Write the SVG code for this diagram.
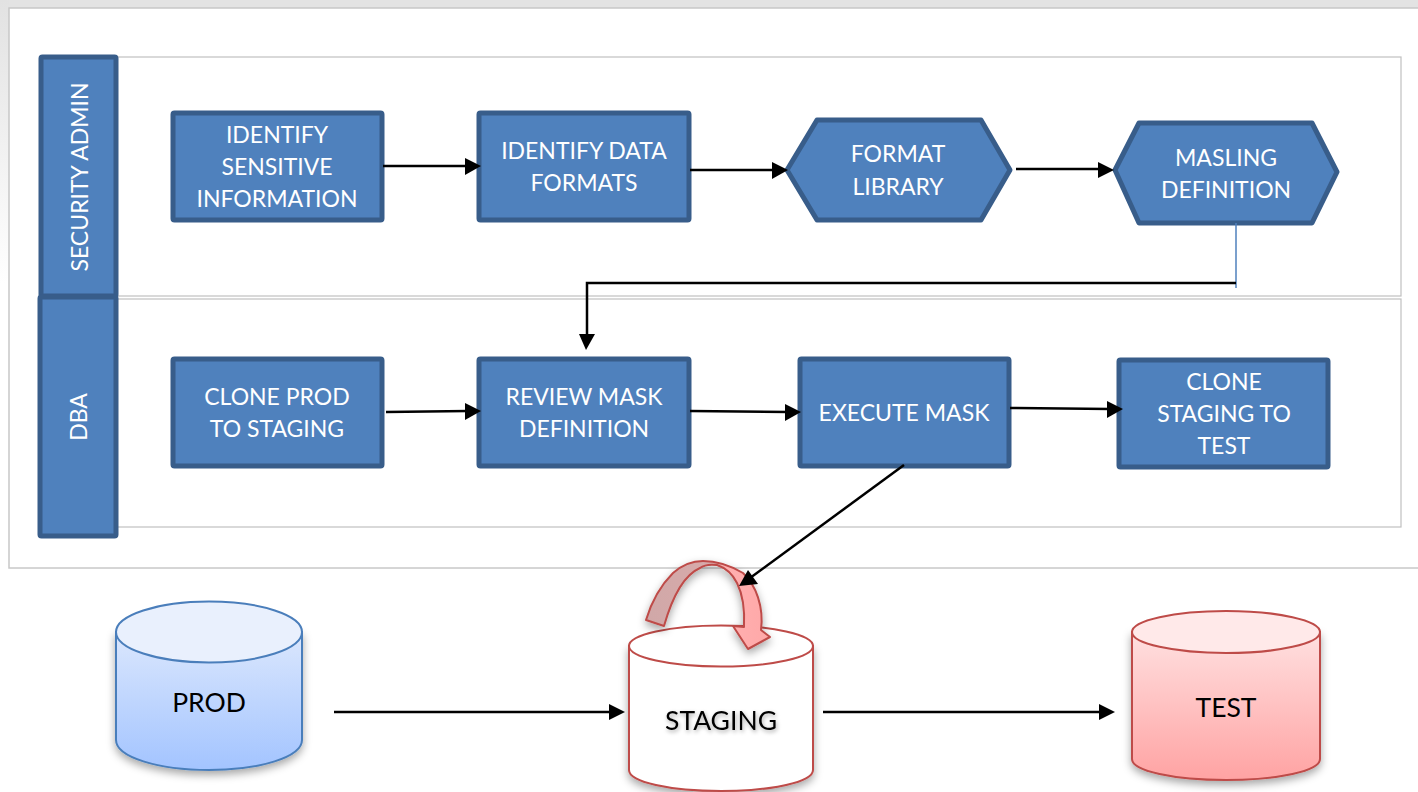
<svg xmlns="http://www.w3.org/2000/svg" width="1418" height="792" viewBox="0 0 1418 792">
<defs>
<style>
.box{fill:#4f81bd;stroke:#385d8a;stroke-width:5;stroke-linejoin:round}
.t{font-family:Lato,"Liberation Sans",sans-serif;font-size:23px;fill:#fff;text-anchor:middle}
.d{font-family:Lato,"Liberation Sans",sans-serif;font-size:26.500px;fill:#000;text-anchor:middle}
.lane{fill:#fff;stroke:#c0c0c0;stroke-width:1.200}
.c{fill:none;stroke:#000;stroke-width:2.500}
.h{fill:#000;stroke:none}
</style>
<linearGradient id="pg" x1="0" y1="0" x2="0" y2="1"><stop offset="0" stop-color="#e2e2e2"/><stop offset="0.5" stop-color="#fff"/></linearGradient>
<linearGradient id="blue" x1="0" y1="0" x2="0" y2="1"><stop offset="0" stop-color="#dbe7fd"/><stop offset="1" stop-color="#a3c4ff"/></linearGradient>
<linearGradient id="red" x1="0" y1="0" x2="0" y2="1"><stop offset="0" stop-color="#ffe0e0"/><stop offset="1" stop-color="#ffa3a3"/></linearGradient>
<linearGradient id="fold" x1="0" y1="0" x2="1" y2="0"><stop offset="0" stop-color="#d0a8a8"/><stop offset="0.55" stop-color="#d8aaaa"/><stop offset="0.64" stop-color="#ffb0b0"/><stop offset="1" stop-color="#ffa8a8"/></linearGradient>
<filter id="sh" x="-10%" y="-10%" width="120%" height="125%"><feDropShadow dx="0" dy="4" stdDeviation="4" flood-color="#000" flood-opacity="0.35"/></filter>
<filter id="ts" x="-10%" y="-20%" width="120%" height="150%"><feDropShadow dx="1" dy="2" stdDeviation="2" flood-color="#000" flood-opacity="0.35"/></filter>
</defs>
<rect width="1418" height="792" fill="#fff"/>
<rect x="0" y="0" width="1418" height="8" fill="#e3e3e3"/>
<rect x="0" y="0" width="9" height="568" fill="url(#pg)"/>
<rect x="9" y="8" width="1412" height="560" fill="#fff" stroke="#c8c8c8" stroke-width="1.500"/>
<g id="lanes">
<rect class="lane" x="117" y="57" width="1284" height="239"/>
<rect class="lane" x="117" y="299" width="1284" height="228"/>
</g>
<g id="lane-security-admin">
<rect class="box" x="41" y="57" width="75" height="239" rx="1.500"/>
<text class="t" transform="translate(88,177) rotate(-90)">SECURITY ADMIN</text>
</g>
<g id="lane-dba">
<rect class="box" x="40" y="297" width="76" height="239" rx="1.500"/>
<text class="t" transform="translate(87,417) rotate(-90)">DBA</text>
</g>
<g id="n1">
<rect class="box" x="173" y="113" width="209" height="107" rx="1.500"/>
<text class="t"><tspan x="277" y="143">IDENTIFY</tspan><tspan x="277" y="175">SENSITIVE</tspan><tspan x="277" y="207">INFORMATION</tspan></text>
</g>
<g id="n2">
<rect class="box" x="479" y="113" width="210" height="107" rx="1.500"/>
<text class="t"><tspan x="584" y="159">IDENTIFY DATA</tspan><tspan x="584" y="191">FORMATS</tspan></text>
</g>
<g id="n3">
<polygon class="box" points="787,170 817,120 981,120 1010,170 981,220 817,220"/>
<text class="t"><tspan x="898" y="162">FORMAT</tspan><tspan x="898" y="195">LIBRARY</tspan></text>
</g>
<g id="n4">
<polygon class="box" points="1115,170 1139,123 1312,123 1337,172 1312,223 1139,223"/>
<text class="t"><tspan x="1226" y="166">MASLING</tspan><tspan x="1226" y="198">DEFINITION</tspan></text>
</g>
<g id="n5">
<rect class="box" x="173" y="359" width="209" height="107" rx="1.500"/>
<text class="t"><tspan x="277" y="405">CLONE PROD</tspan><tspan x="277" y="437">TO STAGING</tspan></text>
</g>
<g id="n6">
<rect class="box" x="479" y="359" width="210" height="107" rx="1.500"/>
<text class="t"><tspan x="584" y="405">REVIEW MASK</tspan><tspan x="584" y="437">DEFINITION</tspan></text>
</g>
<g id="n7">
<rect class="box" x="800" y="359" width="209" height="107" rx="1.500"/>
<text class="t" x="904" y="421">EXECUTE MASK</text>
</g>
<g id="n8">
<rect class="box" x="1119" y="360" width="209" height="107" rx="1.500"/>
<text class="t"><tspan x="1224" y="390">CLONE</tspan><tspan x="1224" y="422">STAGING TO</tspan><tspan x="1224" y="454">TEST</tspan></text>
</g>
<g id="prod">
<path d="M116 632V740C116 757 158 770 209 770S302 757 302 740V632Z" fill="url(#blue)" stroke="#4a7ebb" stroke-width="2" filter="url(#sh)"/>
<ellipse cx="209" cy="632" rx="93" ry="30.500" fill="#e9f0fd" stroke="#4a7ebb" stroke-width="2"/>
<text class="d" x="209" y="712">PROD</text>
</g>
<g id="staging">
<path d="M629 646V770C629 782 670 791 721 791S813 782 813 770V646Z" fill="#fff" stroke="#be4b48" stroke-width="2" filter="url(#sh)"/>
<ellipse cx="721" cy="646" rx="92" ry="20.500" fill="#fff" stroke="#be4b48" stroke-width="2"/>
<text class="d" x="721" y="730" filter="url(#ts)">STAGING</text>
</g>
<g id="test">
<path d="M1132 632V759C1132 771 1174 780 1226 780S1320 771 1320 759V632Z" fill="url(#red)" stroke="#be4b48" stroke-width="2" filter="url(#sh)"/>
<ellipse cx="1226" cy="632" rx="94" ry="21" fill="#ffe9e9" stroke="#be4b48" stroke-width="2"/>
<text class="d" x="1226" y="717">TEST</text>
</g>
<g id="cycle-arrow">
<path d="M646 620C652 600 662 584 673 573C682 565 692 561 703 561C716 561 731 566 743 573C756 585 764 607 761 630L770 637L748 649L733 626L744 627C745 607 742 593 737 583C733 575 726 568 717 565C709 564 704 565 700 568C684 575 672 598 664 626Z" fill="url(#fold)" stroke="#be4b48" stroke-width="2" stroke-linejoin="round" filter="url(#sh)"/>
</g>
<g id="connectors">
<path class="c" d="M383 166H468"/><polygon class="h" points="481,166 465,158 465,175"/>
<path class="c" d="M690 170H775"/><polygon class="h" points="788,170 772,162 772,179"/>
<path class="c" d="M1016 169H1100"/><polygon class="h" points="1114,170 1098,162 1098,178"/>
<path d="M1236 223V288" fill="none" stroke="#4f81bd" stroke-width="1.500"/>
<path class="c" d="M1236 283H587V337"/><polygon class="h" points="586,350 579,334 595,334"/>
<path class="c" d="M386 412L468 411"/><polygon class="h" points="481,411 465,403 465,420"/>
<path class="c" d="M690 411L788 412"/><polygon class="h" points="801,412 785,404 785,421"/>
<path class="c" d="M1010 408L1110 409"/><polygon class="h" points="1123,409 1107,401 1107,418"/>
<path class="c" d="M904 465L750 578"/><polygon class="h" points="739,586 748,570 758,584"/>
<path class="c" d="M334 712H612"/><polygon class="h" points="625,712 609,704 609,720"/>
<path class="c" d="M823 712H1102"/><polygon class="h" points="1115,712 1099,704 1099,720"/>
</g>
</svg>
